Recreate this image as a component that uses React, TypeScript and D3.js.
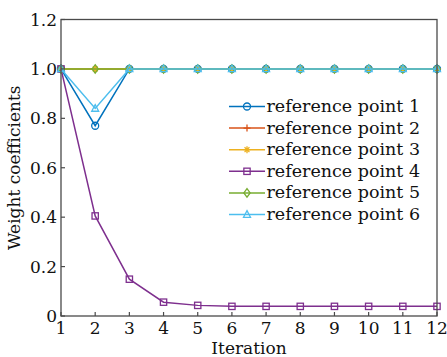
import * as d3 from 'd3'

const ITERATIONS = [1, 2, 3, 4, 5, 6, 7, 8, 9, 10, 11, 12]
const REF1 = [1, 0.77, 1, 1, 1, 1, 1, 1, 1, 1, 1, 1]
const REF2 = [1, 1, 1, 1, 1, 1, 1, 1, 1, 1, 1, 1]
const REF3 = [1, 1, 1, 1, 1, 1, 1, 1, 1, 1, 1, 1]
const REF4 = [1, 0.405, 0.149, 0.056, 0.043, 0.039, 0.039, 0.039, 0.039, 0.039, 0.039, 0.039]
const REF5 = [1, 1, 1, 1, 1, 1, 1, 1, 1, 1, 1, 1]
const REF6 = [1, 0.84, 1, 1, 1, 1, 1, 1, 1, 1, 1, 1]
const Y_TICKS = [0, 0.2, 0.4, 0.6, 0.8, 1.0, 1.2]

type Marker = 'circle' | 'plus' | 'star' | 'square' | 'diamond' | 'triangle'
const SERIES: { name: string; values: number[]; color: string; marker: Marker }[] = [
  { name: 'reference point 1', values: REF1, color: '#0072BD', marker: 'circle' },
  { name: 'reference point 2', values: REF2, color: '#D95319', marker: 'plus' },
  { name: 'reference point 3', values: REF3, color: '#EDB120', marker: 'star' },
  { name: 'reference point 4', values: REF4, color: '#7E2F8E', marker: 'square' },
  { name: 'reference point 5', values: REF5, color: '#77AC30', marker: 'diamond' },
  { name: 'reference point 6', values: REF6, color: '#4DBEEE', marker: 'triangle' },
]

const FONT = '"DejaVu Serif", serif'
const W = 447, H = 357
const margin = { top: 19.5, right: 10, bottom: 41, left: 61 }

function MarkerShape({ type, x, y, color }: { type: Marker; x: number; y: number; color: string }) {
  const s = 3.5
  const common = { fill: 'none', stroke: color, strokeWidth: 1.3 }
  switch (type) {
    case 'circle':
      return <circle cx={x} cy={y} r={s} {...common} />
    case 'plus':
      return <path d={`M${x - s},${y}H${x + s}M${x},${y - s}V${y + s}`} {...common} />
    case 'star':
      return (
        <path
          d={`M${x - s},${y}H${x + s}M${x},${y - s}V${y + s}M${x - s * 0.7},${y - s * 0.7}L${x + s * 0.7},${y + s * 0.7}M${x - s * 0.7},${y + s * 0.7}L${x + s * 0.7},${y - s * 0.7}`}
          {...common}
        />
      )
    case 'square':
      return <rect x={x - s * 0.9} y={y - s * 0.9} width={s * 1.8} height={s * 1.8} {...common} />
    case 'diamond':
      return <path d={`M${x},${y - s * 1.2}L${x + s * 0.9},${y}L${x},${y + s * 1.2}L${x - s * 0.9},${y}Z`} {...common} />
    case 'triangle':
      return <path d={`M${x},${y - s * 1.1}L${x + s},${y + s * 0.8}L${x - s},${y + s * 0.8}Z`} {...common} />
  }
}

export default function App() {
  const x = d3.scaleLinear().domain([1, 12]).range([margin.left, W - margin.right])
  const y = d3.scaleLinear().domain([0, 1.2]).range([H - margin.bottom, margin.top])
  const line = d3.line<number>().x((_, i) => x(ITERATIONS[i])).y(v => y(v))
  const axisColor = '#4a4a4a'

  const legendX = 229
  const legendY0 = 106.5
  const legendStep = 21.6

  return (
    <svg width={W} height={H} style={{ position: 'absolute', left: 0, top: 0, background: '#fff' }}>
      {/* series */}
      {SERIES.map(s => (
        <g key={s.name}>
          <path d={line(s.values) ?? ''} fill="none" stroke={s.color} strokeWidth={1.5} />
          {s.values.map((v, i) => (
            <MarkerShape key={i} type={s.marker} x={x(ITERATIONS[i])} y={y(v)} color={s.color} />
          ))}
        </g>
      ))}

      {/* frame */}
      <rect x={x(1)} y={y(1.2)} width={x(12) - x(1)} height={y(0) - y(1.2)} fill="none" stroke={axisColor} strokeWidth={1.3} />

      {/* x ticks */}
      {ITERATIONS.map(t => (
        <g key={t}>
          <line x1={x(t)} x2={x(t)} y1={y(0)} y2={y(0) - 4} stroke={axisColor} strokeWidth={1.2} />
          <text x={x(t)} y={y(0) + 17.5} textAnchor="middle" fontFamily={FONT} fontSize={17} fill="#111">{t}</text>
        </g>
      ))}

      {/* y ticks */}
      {Y_TICKS.map(t => (
        <g key={t}>
          <line x1={x(1)} x2={x(1) + 4} y1={y(t)} y2={y(t)} stroke={axisColor} strokeWidth={1.2} />
          <text x={x(1) - 4} y={y(t) + 6} textAnchor="end" fontFamily={FONT} fontSize={17} fill="#111">
            {t === 0 ? '0' : t.toFixed(1)}
          </text>
        </g>
      ))}

      <text x={(x(1) + x(12)) / 2} y={354} textAnchor="middle" fontFamily={FONT} fontSize={17} fill="#111">Iteration</text>
      <text transform={`translate(20,${(y(0) + y(1.2)) / 2}) rotate(-90)`} textAnchor="middle" fontFamily={FONT} fontSize={17} fill="#111">
        Weight coefficients
      </text>

      {/* legend */}
      {SERIES.map((s, i) => {
        const ly = legendY0 + i * legendStep
        return (
          <g key={s.name}>
            <line x1={legendX} x2={legendX + 36} y1={ly} y2={ly} stroke={s.color} strokeWidth={1.5} />
            <MarkerShape type={s.marker} x={legendX + 18} y={ly} color={s.color} />
            <text x={legendX + 37.5} y={ly + 5.5} fontFamily={FONT} fontSize={17.5} fill="#111">{s.name}</text>
          </g>
        )
      })}
    </svg>
  )
}
